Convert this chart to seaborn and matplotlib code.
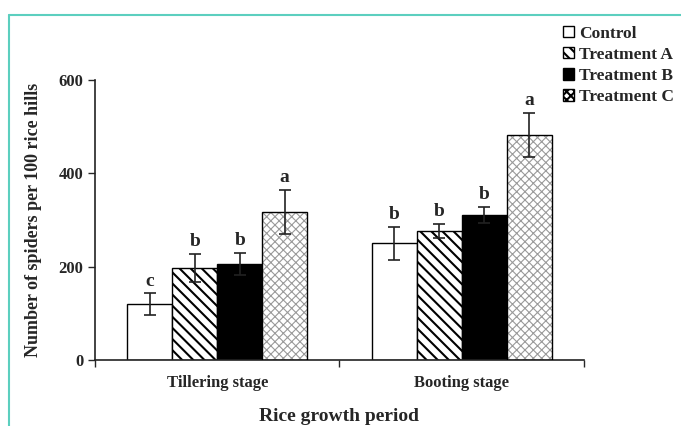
import pandas as pd
import matplotlib.pyplot as plt
import matplotlib.lines as mlines
import matplotlib.patches as mpatches
import seaborn as sns

stages = ["Tillering stage", "Booting stage"]
treatments = ["Control", "Treatment A", "Treatment B", "Treatment C"]

# mean spiders per 100 hills, one list per treatment (tillering, booting)
control = [120, 250]
treat_a = [197, 277]
treat_b = [206, 311]
treat_c = [318, 482]

err_control = [23, 35]
err_a = [30, 15]
err_b = [23, 18]
err_c = [47, 47]

letters_control = ["c", "b"]
letters_a = ["b", "b"]
letters_b = ["b", "b"]
letters_c = ["a", "a"]

means = [control, treat_a, treat_b, treat_c]
errs = [err_control, err_a, err_b, err_c]
letters = [letters_control, letters_a, letters_b, letters_c]

rows = []
for t, m, e, l in zip(treatments, means, errs, letters):
    for s, v, ee, ll in zip(stages, m, e, l):
        rows.append({"Stage": s, "Treatment": t, "Spiders": v, "SE": ee, "Letter": ll})
df = pd.DataFrame(rows)

sns.set_theme(style="white")
plt.rcParams["font.family"] = ["Liberation Serif", "DejaVu Serif"]
plt.rcParams["font.weight"] = "bold"
plt.rcParams["hatch.linewidth"] = 1.5

fig = plt.figure(figsize=(6.81, 4.26), dpi=100)
ax = fig.add_axes([0.1395, 0.155, 0.718, 0.657])

palette = {"Control": "white", "Treatment A": "white", "Treatment B": "black", "Treatment C": "white"}
sns.barplot(data=df, x="Stage", y="Spiders", hue="Treatment", hue_order=treatments,
            order=stages, palette=palette, width=0.735, errorbar=None,
            edgecolor="black", linewidth=1.0, legend=False, ax=ax)

hatches = {"Control": "", "Treatment A": "\\\\\\", "Treatment B": "", "Treatment C": "xxxx"}

bars = [p for p in ax.patches if isinstance(p, mpatches.Rectangle)]
i = 0
for t in treatments:
    sub = df[df["Treatment"] == t].set_index("Stage").loc[stages]
    for s in stages:
        p = bars[i]
        i += 1
        row = sub.loc[s]
        p.set_hatch(hatches[t])
        if t == "Treatment C":
            p.set_edgecolor("#9a9a9a")
            p.set_linewidth(0.0)
            if hasattr(p, "set_hatch_linewidth"):
                p.set_hatch_linewidth(0.8)
            ax.add_patch(mpatches.Rectangle(p.get_xy(), p.get_width(), p.get_height(),
                                            fill=False, edgecolor="black", linewidth=1.0, zorder=3))
        xc = p.get_x() + p.get_width() / 2
        ax.errorbar(xc, row["Spiders"], yerr=row["SE"], color="#222222", capsize=4,
                    elinewidth=1.2, capthick=1.2, zorder=4)
        ax.text(xc, row["Spiders"] + row["SE"] + 8, row["Letter"], ha="center", va="bottom",
                fontsize=14, fontweight="bold")

ax.set_xlim(-0.5, 1.5)
ax.set_ylim(0, 600)
ax.set_yticks([0, 200, 400, 600])
ax.set_xticks([-0.5, 0.5, 1.5], minor=True)
ax.tick_params(axis="x", which="major", length=0, labelsize=12, pad=11)
ax.tick_params(axis="x", which="minor", length=5, direction="out", width=1, bottom=True)
ax.tick_params(axis="y", length=5, direction="out", width=1, left=True, labelsize=12)
for lab in ax.get_xticklabels() + ax.get_yticklabels():
    lab.set_fontweight("bold")

sns.despine(ax=ax)
for side in ["left", "bottom"]:
    ax.spines[side].set_color("#222222")
    ax.spines[side].set_linewidth(1.2)

ax.set_xlabel("Rice growth period", fontsize=14, fontweight="bold", labelpad=12)
ax.set_ylabel("Number of spiders per 100 rice hills", fontsize=13, fontweight="bold", labelpad=12)

handles = []
for t in treatments:
    h = mpatches.Patch(facecolor=palette[t], edgecolor="black", hatch=hatches[t], linewidth=1.0)
    handles.append(h)
leg = fig.legend(handles, treatments, loc="upper left", bbox_to_anchor=(0.826, 0.94),
                 frameon=False, prop={"weight": "bold", "size": 12.5},
                 handlelength=0.65, handleheight=0.65, handletextpad=0.3, labelspacing=0.3,
                 borderaxespad=0, borderpad=0)

# teal frame lines along top and left
teal = "#5ccfbf"
fig.add_artist(mlines.Line2D([0.013, 1.0], [0.965, 0.965], color=teal, linewidth=1.5,
                             transform=fig.transFigure))
fig.add_artist(mlines.Line2D([0.013, 0.013], [0.0, 0.965], color=teal, linewidth=1.5,
                             transform=fig.transFigure))

fig.savefig("out.png", dpi=100)
